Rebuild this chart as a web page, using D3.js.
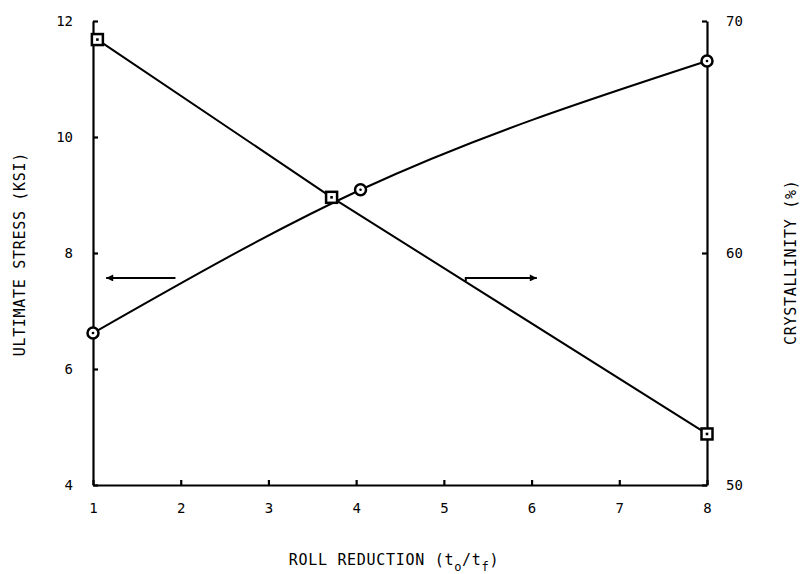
<!DOCTYPE html>
<html>
<head>
<meta charset="utf-8">
<script src="https://cdn.jsdelivr.net/npm/d3@7"></script>
<style>
  body { margin: 0; background: #fff; }
  text { font-family: "DejaVu Sans Mono", "Liberation Mono", monospace; fill: #000; }
</style>
</head>
<body>
<div id="chart-area"></div>
<script>
// roll reduction values for each series
var rollStress = [1, 4.05, 8];
var stress = [6.62, 9.09, 11.31];            // KSI, left axis (circles)
var rollCryst = [1.05, 3.72, 8];
var crystallinity = [69.2, 62.4, 52.2];      // %, right axis (squares)

var xTicks = [1, 2, 3, 4, 5, 6, 7, 8];
var stressTicks = [4, 6, 8, 10, 12];
var crystTicks = [50, 60, 70];

var width = 806, height = 574;
var margin = {top: 21, right: 99, bottom: 89, left: 93};
var w = width - margin.left - margin.right;
var h = height - margin.top - margin.bottom;

var svg = d3.select("#chart-area").append("svg")
    .attr("width", width)
    .attr("height", height);

var g = svg.append("g")
    .attr("transform", "translate(" + margin.left + ", " + margin.top + ")");

var x = d3.scaleLinear().domain([1, 8]).range([0, w]);
var yL = d3.scaleLinear().domain([4, 12]).range([h, 0]);
var yR = d3.scaleLinear().domain([50, 70]).range([h, 0]);

function styleAxis(sel) {
    sel.selectAll("path, line").attr("stroke", "#000").attr("stroke-width", 2.2);
    sel.selectAll("text").attr("font-size", "14px").attr("fill", "#000")
        .attr("font-family", "'DejaVu Sans Mono', monospace");
}

g.append("g")
    .attr("transform", "translate(0, " + h + ")")
    .call(d3.axisBottom(x).tickValues(xTicks).tickFormat(d3.format("d"))
        .tickSizeInner(-5).tickSizeOuter(0).tickPadding(18))
    .call(styleAxis);

g.append("g")
    .call(d3.axisLeft(yL).tickValues(stressTicks)
        .tickSizeInner(-5).tickSizeOuter(0).tickPadding(20))
    .call(styleAxis);

g.append("g")
    .attr("transform", "translate(" + w + ", 0)")
    .call(d3.axisRight(yR).tickValues(crystTicks)
        .tickSizeInner(-5).tickSizeOuter(0).tickPadding(19))
    .call(styleAxis);

// axis titles
svg.append("text")
    .attr("transform", "translate(25, " + (margin.top + yL(7.98)) + ") rotate(-90)")
    .attr("text-anchor", "middle")
    .attr("font-size", "15px")
    .attr("letter-spacing", "0.7px")
    .text("ULTIMATE STRESS (KSI)");

svg.append("text")
    .attr("transform", "translate(796, " + (margin.top + yR(59.6)) + ") rotate(-90)")
    .attr("text-anchor", "middle")
    .attr("font-size", "15px")
    .attr("letter-spacing", "0.7px")
    .text("CRYSTALLINITY (%)");

var xt = svg.append("text")
    .attr("x", margin.left + x(4.5) - 6)
    .attr("y", 565)
    .attr("text-anchor", "middle")
    .attr("font-size", "15px")
    .attr("letter-spacing", "0.7px");
xt.append("tspan").text("ROLL REDUCTION (t");
xt.append("tspan").attr("font-size", "12px").attr("dy", 6).text("o");
xt.append("tspan").attr("dy", -6).text("/t");
xt.append("tspan").attr("font-size", "12px").attr("dy", 6).text("f");
xt.append("tspan").attr("dy", -6).text(")");

// series
var stressData = rollStress.map(function(d, i) { return {x: d, y: stress[i]}; });
var crystData = rollCryst.map(function(d, i) { return {x: d, y: crystallinity[i]}; });

g.append("path")
    .datum(stressData)
    .attr("fill", "none")
    .attr("stroke", "#000")
    .attr("stroke-width", 2)
    .attr("d", d3.line()
        .x(function(d) { return x(d.x); })
        .y(function(d) { return yL(d.y); })
        .curve(d3.curveMonotoneX));

g.append("path")
    .datum(crystData)
    .attr("fill", "none")
    .attr("stroke", "#000")
    .attr("stroke-width", 2)
    .attr("d", d3.line()
        .x(function(d) { return x(d.x); })
        .y(function(d) { return yR(d.y); }));

// circle markers
var circ = g.selectAll(".circ").data(stressData).enter().append("g")
    .attr("class", "circ")
    .attr("transform", function(d) { return "translate(" + x(d.x) + ", " + yL(d.y) + ")"; });
circ.append("circle").attr("r", 5.5).attr("fill", "#fff").attr("stroke", "#000").attr("stroke-width", 2.5);
circ.append("circle").attr("r", 1.3).attr("fill", "#000");

// square markers
var sq = g.selectAll(".sq").data(crystData).enter().append("g")
    .attr("class", "sq")
    .attr("transform", function(d) { return "translate(" + x(d.x) + ", " + yR(d.y) + ")"; });
sq.append("rect").attr("x", -5.5).attr("y", -5.5).attr("width", 11).attr("height", 11)
    .attr("fill", "#fff").attr("stroke", "#000").attr("stroke-width", 2.5);
sq.append("rect").attr("x", -1.3).attr("y", -1.3).attr("width", 2.6).attr("height", 2.6).attr("fill", "#000");

// arrows pointing to the axis of each curve
svg.append("defs").append("marker")
    .attr("id", "head")
    .attr("viewBox", "0 0 10 10")
    .attr("refX", 10).attr("refY", 5)
    .attr("markerWidth", 5.5).attr("markerHeight", 3.5)
    .attr("markerUnits", "strokeWidth")
    .attr("orient", "auto")
  .append("path")
    .attr("d", "M0,0L10,5L0,10Z")
    .attr("fill", "#000");

var arrowY = yL(7.57);
g.append("line")
    .attr("x1", x(1.94)).attr("x2", x(1.15))
    .attr("y1", arrowY).attr("y2", arrowY)
    .attr("stroke", "#000").attr("stroke-width", 2)
    .attr("marker-end", "url(#head)");

g.append("path")
    .attr("d", "M" + x(5.25) + "," + (arrowY + 3) + "V" + arrowY + "H" + x(6.06))
    .attr("fill", "none")
    .attr("stroke", "#000").attr("stroke-width", 2)
    .attr("marker-end", "url(#head)");
</script>
</body>
</html>
